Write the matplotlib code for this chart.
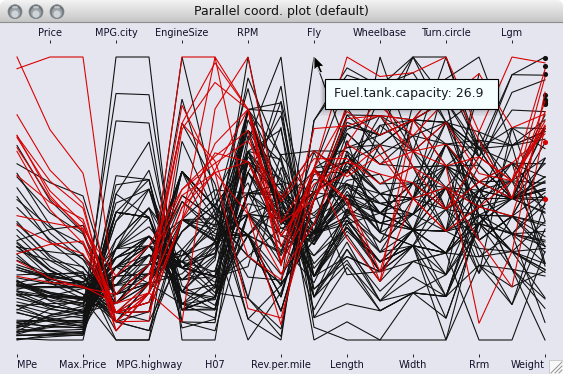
import numpy as np
import matplotlib
matplotlib.use("Agg")
import matplotlib.pyplot as plt
from matplotlib.patches import Circle, Ellipse, Polygon, Rectangle

NA = np.nan

bottom_names = ["MPe", "Max.Price", "MPG.highway", "H07", "Rev.per.mile", "Length", "Width", "Rrm", "Weight"]
top_names = ["Price", "MPG.city", "EngineSize", "RPM", "Fly", "Wheelbase", "Turn.circle", "Lgm"]

min_price = [12.9,29.2,25.9,30.8,23.7,14.2,19.9,22.6,26.3,33.0,
    37.5,8.5,11.4,13.4,13.4,14.7,14.7,18.0,34.6,18.4,
    14.5,29.5,7.9,8.4,11.9,13.6,14.8,18.5,7.9,17.5,
    6.9,7.5,10.4,10.8,12.8,14.5,15.6,20.1,6.7,11.5,
    17.0,8.4,13.8,6.8,9.0,9.1,12.4,45.4,27.5,34.7,
    33.3,34.4,7.4,10.9,14.3,16.3,32.5,29.0,43.8,13.3,
    14.9,7.7,22.4,8.7,13.0,16.7,21.0,13.0,14.2,19.5,
    19.5,11.4,8.2,9.4,14.0,15.4,19.4,20.3,9.2,7.3,
    10.5,16.3,7.3,7.8,14.2,15.2,18.9,8.7,16.6,17.6,
    22.9,21.8,24.8]
price = [15.9,33.9,29.1,37.7,30.0,15.7,20.8,23.7,26.3,34.7,
    40.1,13.4,11.4,15.1,15.9,16.3,16.6,18.8,38.0,18.4,
    15.8,29.5,9.2,11.3,13.3,19.0,15.6,25.8,12.2,19.3,
    7.4,10.1,11.3,15.9,14.0,19.9,20.2,20.9,8.4,12.5,
    19.8,12.1,17.5,8.0,10.0,10.0,13.9,47.9,28.0,35.2,
    34.3,36.1,8.3,11.6,16.5,19.1,32.5,31.9,61.9,14.1,
    14.9,10.3,26.1,11.8,15.7,19.1,21.5,13.5,16.3,19.5,
    20.7,14.4,9.0,11.1,17.7,18.5,24.4,28.7,11.1,8.4,
    10.9,19.5,8.6,9.8,18.4,18.2,22.7,9.1,19.7,20.0,
    23.3,22.7,26.7]
max_price = [18.8,38.7,32.3,44.6,36.2,17.3,21.7,24.9,26.3,36.3,
    42.7,18.3,11.4,16.8,18.4,18.0,18.6,19.6,41.5,18.4,
    17.1,29.5,10.6,14.2,14.7,24.4,16.4,33.1,16.5,21.2,
    7.9,12.5,12.2,21.0,15.2,25.3,24.8,21.7,10.0,13.5,
    22.7,15.8,21.2,9.2,11.0,11.0,15.3,50.4,28.4,35.6,
    35.3,37.8,9.1,12.3,18.7,21.9,32.5,34.9,80.0,15.0,
    14.9,12.9,29.9,14.9,18.3,21.5,22.0,14.0,18.4,19.5,
    21.9,17.4,9.9,12.8,21.4,21.6,29.4,37.1,12.9,9.5,
    11.3,22.7,10.0,11.8,22.6,21.2,26.6,9.5,22.7,22.4,
    23.7,23.5,28.5]
mpg_city = [25,18,20,19,22,22,19,16,19,16,
    16,25,25,19,21,18,15,17,17,20,
    23,20,29,23,22,17,21,18,29,20,
    31,23,22,22,24,15,21,18,46,30,
    24,42,24,29,22,26,20,17,18,18,
    17,18,29,28,26,18,17,20,19,23,
    19,29,18,29,24,17,21,24,23,18,
    19,23,31,23,19,19,19,20,28,33,
    25,23,39,32,25,22,18,25,17,21,
    18,21,20]
mpg_highway = [31,25,26,26,30,31,28,25,27,25,
    25,36,34,28,29,23,20,26,25,28,
    28,26,33,29,27,21,27,24,33,28,
    33,30,27,29,30,20,30,26,50,36,
    31,46,31,33,29,34,27,22,24,23,
    26,26,37,36,34,24,25,29,25,26,
    26,33,24,33,30,23,26,31,31,23,
    28,30,41,31,28,27,28,26,38,37,
    30,30,43,37,32,29,22,33,21,30,
    25,28,28]
engine_size = [1.8,3.2,2.8,2.8,3.5,2.2,3.8,5.7,3.8,4.9,
    4.6,2.2,2.2,3.4,2.2,3.8,4.3,5.0,5.7,3.3,
    3.0,3.3,1.5,2.2,2.5,3.0,2.5,3.0,1.5,3.5,
    1.3,1.8,2.3,2.3,2.0,3.0,3.0,4.6,1.0,1.6,
    2.3,1.5,2.2,1.5,1.8,1.5,2.0,4.5,3.0,3.0,
    3.8,4.6,1.6,1.8,2.5,3.0,1.3,2.3,3.2,1.6,
    3.8,1.5,3.0,1.6,2.4,3.0,3.0,2.3,2.2,3.8,
    3.8,1.8,1.6,2.0,3.4,3.4,3.8,2.1,1.9,1.2,
    1.8,2.2,1.3,1.5,2.2,2.2,2.4,1.8,2.5,2.0,
    2.8,2.3,2.4]
h07 = [140,200,172,172,208,110,170,180,170,200,
    295,110,110,160,110,170,165,170,300,153,
    141,147,92,93,100,142,100,300,92,214,
    63,127,96,105,115,145,140,190,55,90,
    160,102,140,81,124,92,128,278,185,225,
    160,210,82,103,164,155,255,130,217,100,
    140,92,202,110,150,151,160,155,110,170,
    170,92,74,110,160,200,170,140,85,73,
    90,130,70,82,135,130,138,81,109,134,
    178,114,168]
rpm = [6300,5500,5500,5500,5700,5200,4800,4000,4800,4100,
    6000,5200,5200,4600,5200,4800,4000,4200,5000,5300,
    5000,4800,6000,4800,4800,5000,4800,6000,6000,5800,
    5000,6500,4200,4600,5500,4800,4800,4200,5700,5400,
    5800,5900,5600,5500,6000,5550,6000,6000,5200,6000,
    4400,4600,5000,5500,5600,5000,6500,5100,5500,5750,
    3800,6000,6000,6000,5600,4800,5200,6000,5200,4800,
    4800,5000,5600,5200,4600,5000,4800,6000,5000,5600,
    5200,5600,6000,5200,5400,5400,5000,5500,4500,5800,
    5800,5400,6200]
rev_per_mile = [2890,2335,2280,2535,2545,2565,1570,1320,1690,1510,
    1985,2380,2665,1805,2595,1690,1790,1350,1450,1990,
    2090,1785,3285,2595,2535,1970,2465,2120,2505,1980,
    3150,2410,2805,2285,2340,2080,1885,1415,3755,3250,
    2855,2650,2610,2710,2745,2540,2335,1955,2325,2510,
    1835,1840,2370,2220,2505,2240,2325,2425,2220,2475,
    1730,2505,2210,2435,2130,2065,2045,2380,2565,1690,
    1570,2360,3130,2665,1805,1890,1565,2910,2145,2875,
    3375,2330,3360,3505,2405,2340,2515,2550,2915,2685,
    2385,2215,2310]
fly = [13.2,18.0,16.9,21.1,21.1,16.4,18.0,23.0,18.8,18.0,
    20.0,15.2,15.6,15.5,16.5,20.0,27.0,23.0,20.0,18.0,
    16.0,16.0,13.2,14.0,16.0,20.0,16.0,19.8,13.2,18.0,
    10.0,13.2,15.9,15.4,15.5,21.0,16.0,20.0,10.6,12.4,
    15.9,11.9,17.0,11.9,13.7,11.9,17.2,22.5,18.5,20.6,
    18.4,20.0,13.2,14.5,15.5,19.6,20.0,14.5,18.5,11.1,
    18.0,13.2,19.0,13.2,15.9,20.0,18.5,15.2,16.5,20.0,
    18.0,15.9,13.2,15.2,15.5,16.5,18.0,18.0,12.8,9.2,
    15.9,15.9,10.6,11.9,15.9,18.5,19.8,12.4,21.1,18.5,
    18.5,15.8,19.3]
length = [177,195,180,193,186,189,200,216,198,206,
    204,182,184,193,198,178,194,214,179,203,
    183,203,174,172,181,175,192,180,174,202,
    141,171,177,180,179,176,192,212,151,164,
    175,173,185,168,172,166,184,200,188,191,
    205,219,164,172,184,190,169,175,187,166,
    199,172,190,170,181,190,188,188,190,194,
    201,173,177,181,196,195,200,184,176,146,
    175,179,161,162,174,188,187,163,187,180,
    159,190,184]
wheelbase = [102,115,102,106,109,105,111,116,108,114,
    111,101,103,101,108,110,111,116,96,113,
    104,110,98,97,104,112,105,97,98,113,
    90,98,100,101,103,119,106,114,93,97,
    100,103,107,94,98,94,104,113,103,106,
    109,117,97,98,103,110,96,105,110,95,
    113,98,107,96,103,112,104,103,105,110,
    111,97,99,101,101,108,111,99,102,90,
    97,102,93,94,99,103,113,93,115,103,
    97,105,105]
width = [68,71,67,70,69,69,74,78,73,73,
    74,66,68,74,71,74,78,77,74,74,
    68,69,66,67,68,72,69,72,66,74,
    63,67,68,68,70,72,71,78,63,67,
    70,67,67,63,66,64,69,72,70,71,
    73,77,66,66,69,72,69,67,69,65,
    73,67,70,66,67,74,69,67,70,74,
    74,67,66,66,75,72,74,67,68,60,
    65,67,63,65,69,70,71,63,72,67,
    66,67,69]
turn_circle = [37,38,37,37,39,41,42,45,41,43,
    44,38,39,43,40,44,42,42,43,40,
    41,44,32,38,39,42,42,40,36,40,
    33,36,39,40,38,45,40,43,34,37,
    39,36,41,35,36,34,41,42,40,39,
    42,45,34,36,40,39,37,34,37,36,
    38,36,38,33,40,41,41,39,42,42,
    42,39,35,39,43,41,43,37,40,32,
    35,37,34,36,39,38,37,34,38,35,
    36,37,38]
rrm = [26.5,30,28,31,27,28,30.5,30.5,26.5,35,
    31,25,26,25,28.5,30.5,33.5,29.5,NA,31,
    30.5,36,26.5,26.5,30.5,26.5,30.5,20,26.5,30,
    26,28,27,24,23,30,27.5,30,27.5,24.5,
    23.5,28,28,26,28,23.5,31,29,27.5,25,
    30,31.5,27,26.5,29.5,27.5,NA,26,27,19,
    28,26,28.5,26,28.5,27,28.5,28,28,30.5,
    31.5,24.5,25.5,25,25,28.5,30.5,26,26.5,23.5,
    27.5,27,27.5,24,23,28.5,35,26,34,31.5,
    26,29.5,30]
lgm = [11,15,14,17,13,16,17,21,14,18,
    14,13,14,13,16,NA,NA,20,NA,15,
    14,17,11,13,14,NA,16,11,11,15,
    12,12,13,12,18,NA,18,21,10,11,
    8,12,14,11,12,9,14,15,14,9,
    19,22,16,13,14,NA,NA,12,15,6,
    15,11,14,12,14,NA,14,14,16,NA,
    17,8,17,13,13,16,18,14,12,10,
    15,14,10,11,13,15,NA,10,NA,14,
    15,14,15]
weight = [2705,3560,3375,3405,3640,2880,3470,4105,3495,3620,
    3935,2490,2785,3240,3195,3715,4025,3910,3380,3515,
    3085,3570,2270,2670,2970,3705,3080,3805,2295,3490,
    1845,2530,2690,2850,2710,3735,3325,3950,1695,2475,
    2865,2350,3040,2345,2620,2285,2885,4000,3510,3515,
    3640,4055,2325,2440,2970,3735,2895,2920,3525,2450,
    3610,2295,3730,2545,3050,4100,3200,2910,2890,3715,
    3470,2640,2350,2575,3240,3450,3495,2775,2495,2045,
    2490,3085,1965,2055,2950,3030,3785,2240,3960,2985,
    2810,2985,3245]

columns = [min_price, price, max_price, mpg_city, mpg_highway, engine_size, h07, rpm,
           rev_per_mile, fly, length, wheelbase, width, turn_circle, rrm, lgm, weight]

W, H = 563, 374
BG = "#e4e5ef"
BLACK = "#111111"
RED = "#d80000"
TEXT = "#101028"

fig = plt.figure(figsize=(W / 100, H / 100), dpi=100, facecolor=BG)

# each column scaled to its own min and max
table = np.array(columns, dtype=float).T
lo = np.nanmin(table, axis=0)
hi = np.nanmax(table, axis=0)
scaled = (table - lo) / (hi - lo)
selected = np.array(h07) >= 200

# axes runs from the tick rows, so ylim reaches past 0..1
y_top, y_bot = 57.0, 340.0
ax_top, ax_bot = 40.0, 357.0
px = y_bot - y_top
ax = fig.add_axes([17 / W, (H - ax_bot) / H, 528 / W, (ax_bot - ax_top) / H])
ax.patch.set_alpha(0)
ax.set_xlim(0, 16)
ax.set_ylim(-(ax_bot - y_bot) / px, 1 + (y_top - ax_top) / px)
xs = np.arange(table.shape[1])


def draw_rows(rows, color, z):
    for row in rows:
        ax.plot(xs, row, color=color, lw=0.78, zorder=z, clip_on=False, solid_joinstyle="miter")
        # a point with no neighbours has no line, it gets a dot
        for i in xs:
            left = i == 0 or np.isnan(row[i - 1])
            right = i == xs[-1] or np.isnan(row[i + 1])
            if left and right and not np.isnan(row[i]):
                ax.plot(i, row[i], "o", color=color, ms=3.7, mew=0, zorder=z, clip_on=False)


draw_rows(scaled[~selected], BLACK, 2)
draw_rows(scaled[selected], RED, 3)

for s in ax.spines.values():
    s.set_visible(False)
ax.set_yticks([])
ax.set_xticks(xs[::2], bottom_names, fontsize=7, color=TEXT)
ax.tick_params(axis="x", direction="in", length=2.2, width=0.7, pad=2.0, color="#222222")
labels = ax.get_xticklabels()
labels[0].set_ha("left")
labels[-1].set_ha("right")
top_ax = ax.secondary_xaxis("top")
top_ax.set_xticks(xs[1::2], top_names, fontsize=7, color=TEXT)
top_ax.tick_params(axis="x", direction="in", length=2.2, width=0.7, pad=1.4, color="#222222")
top_ax.spines["top"].set_visible(False)

# window chrome, tooltip and cursor on a pixel overlay
ov = fig.add_axes([0, 0, 1, 1], zorder=10)
ov.axis("off")
ov.patch.set_alpha(0)

grad = np.linspace(0.95, 0.78, 22).reshape(-1, 1)
ov.imshow(grad, extent=[0, W, 22, 0], cmap="gray", vmin=0, vmax=1, aspect="auto", zorder=1)
ov.set_xlim(0, W)
ov.set_ylim(H, 0)
ov.plot([0, W], [21.5, 21.5], color="#8c8c8c", lw=0.8, zorder=2)
ov.text(281, 11, "Parallel coord. plot (default)", ha="center", va="center", fontsize=9, color="#111111", zorder=3)
for cx in [15, 36, 57]:
    ov.add_patch(Circle((cx, 11.7), 7, fc="#6d747a", ec="#7f858a", lw=0.5, zorder=3))
    ov.add_patch(Circle((cx, 12.6), 5.4, fc="#9aa1a7", ec="none", zorder=4))
    ov.add_patch(Circle((cx, 14), 3.6, fc="#cfd4d8", ec="none", zorder=4))
    ov.add_patch(Ellipse((cx, 7.2), 6, 2.2, fc="#c4c9cd", ec="none", zorder=4))
# rounded top corners
ov.add_patch(Polygon([(0, 0), (5, 0), (2, 1.5), (0.8, 3), (0, 5)], fc="white", ec="none", zorder=5))
ov.add_patch(Polygon([(W, 0), (W - 5, 0), (W - 2, 1.5), (W - 0.8, 3), (W, 5)], fc="white", ec="none", zorder=5))

# size grip
ov.add_patch(Rectangle((548.5, 359.5), 15, 15, fc="#f8f8f8", ec="#c4c4c8", lw=0.6, zorder=5))
for d in [4, 8, 12]:
    ov.plot([W - d, W - 1], [H - 1, H - d], color="#909090", lw=0.7, zorder=6)

for i in range(6, 0, -1):
    ov.add_patch(Rectangle((324 - i * 0.6, 80 + i * 0.2), 174 + i * 1.2, 29 + i * 0.9, fc="black", alpha=0.035, ec="none", zorder=6))
ov.add_patch(Rectangle((324.5, 78.5), 173, 30, fc="#f5ffff", ec="black", lw=0.8, zorder=7))
ov.text(334, 93.5, "Fuel.tank.capacity: 26.9", ha="left", va="center", fontsize=9, color="#1a1a1a", zorder=8)

cursor = [(314, 56), (314, 70), (317.5, 67), (320, 73), (322.5, 72), (320, 66.5), (324, 66)]
ov.add_patch(Polygon(cursor, fc="black", ec="#f0f0f0", lw=0.6, zorder=9))

fig.savefig("out.png", dpi=100, facecolor=BG)
